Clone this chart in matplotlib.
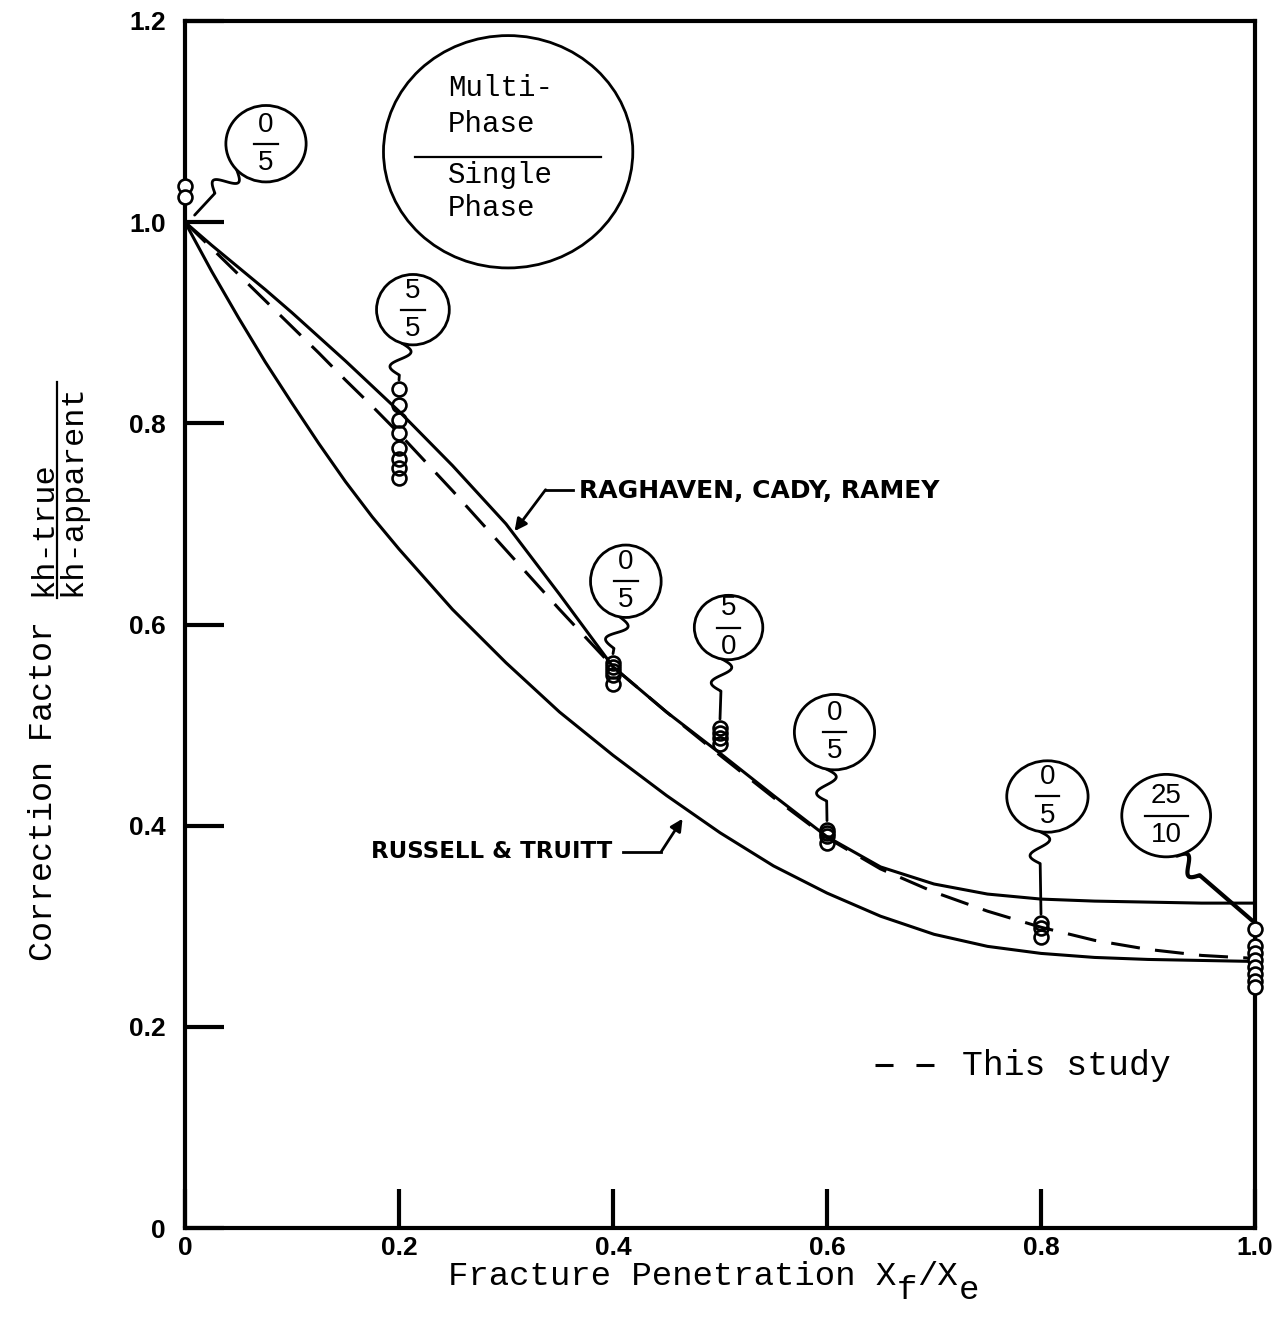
import numpy as np
import matplotlib
matplotlib.use("Agg")
import matplotlib.pyplot as plt
from matplotlib.patches import Ellipse
from matplotlib.transforms import offset_copy

# ---------------- data ----------------
x_curve = [0.000, 0.025, 0.050, 0.075, 0.100, 0.125, 0.150, 0.175, 0.200, 0.25, 0.30,
           0.35, 0.40, 0.45, 0.50, 0.55, 0.60, 0.65, 0.70, 0.75, 0.80, 0.85, 0.90,
           0.95, 1.00]
russell_truitt = [1.000, 0.951, 0.905, 0.861, 0.820, 0.780, 0.742, 0.707, 0.675, 0.615, 0.562,
                  0.513, 0.470, 0.430, 0.393, 0.360, 0.333, 0.310, 0.292, 0.280, 0.273, 0.269, 0.267,
                  0.266, 0.265]
raghavan_cady_ramey = [1.000, 0.977, 0.955, 0.933, 0.910, 0.886, 0.862, 0.837, 0.812, 0.758, 0.700,
                       0.630, 0.558, 0.513, 0.472, 0.430, 0.389, 0.359, 0.342, 0.332, 0.327, 0.325, 0.324,
                       0.323, 0.323]
this_study = [1.000, 0.974, 0.948, 0.922, 0.896, 0.870, 0.843, 0.817, 0.790, 0.733, 0.674,
              0.615, 0.558, 0.513, 0.470, 0.428, 0.388, 0.357, 0.334, 0.315, 0.299, 0.286, 0.277,
              0.271, 0.268]

# measured points at each fracture penetration
pen_groups = [0.0, 0.2, 0.4, 0.5, 0.6, 0.8, 1.0]
pen_values = [
    [1.036, 1.025],
    [0.834, 0.818, 0.803, 0.790, 0.775, 0.765, 0.756, 0.746],
    [0.562, 0.558, 0.554, 0.550, 0.541],
    [0.497, 0.492, 0.487, 0.481],
    [0.396, 0.393, 0.390, 0.383],
    [0.303, 0.298, 0.289],
    [0.297, 0.280, 0.273, 0.266, 0.259, 0.253, 0.246, 0.240],
]
# multi-phase / single-phase counts for each group
multi_counts = ["0", "5", "0", "5", "0", "0", "25"]
single_counts = ["5", "5", "5", "0", "5", "5", "10"]

x_ticks = [0, 0.2, 0.4, 0.6, 0.8, 1.0]
x_tick_labels = ["0", "0.2", "0.4", "0.6", "0.8", "1.0"]
y_ticks = [0, 0.2, 0.4, 0.6, 0.8, 1.0, 1.2]
y_tick_labels = ["0", "0.2", "0.4", "0.6", "0.8", "1.0", "1.2"]

# ---------------- fonts ----------------
MONO = "Liberation Mono"
SANS = "Liberation Sans"
LABEL = "DejaVu Sans"

W, H = 1282, 1328
fig = plt.figure(figsize=(W / 100, H / 100), dpi=100)
ax = fig.add_axes([185 / W, 100 / H, 1070 / W, 1207 / H])
ax.set_xlim(0, 1)
ax.set_ylim(0, 1.2)

for sp in ax.spines.values():
    sp.set_linewidth(3.0)
ax.tick_params(axis="both", direction="in", length=28, width=3.0,
               top=False, right=False)
ax.set_xticks(x_ticks)
ax.set_xticklabels(x_tick_labels, fontfamily=SANS, fontweight="bold", fontsize=19)
ax.set_yticks(y_ticks)
ax.set_yticklabels(y_tick_labels, fontfamily=SANS, fontweight="bold", fontsize=19)
ax.tick_params(axis="x", pad=6)
ax.tick_params(axis="y", pad=14)

# ---------------- curves ----------------
ax.plot(x_curve, russell_truitt, color="k", lw=2.2, solid_joinstyle="round", zorder=3)
ax.plot(x_curve, raghavan_cady_ramey, color="k", lw=2.2, solid_joinstyle="round", zorder=3)
ax.plot(x_curve, this_study, color="k", lw=2.2, linestyle=(0, (9.5, 5.0)), zorder=3)

# ---------------- measured points ----------------
for xg, vals in zip(pen_groups, pen_values):
    face = "white" if xg in (0.0, 1.0) else "none"
    ax.plot([xg] * len(vals), vals, linestyle="none", marker="o", ms=10,
            mfc=face, mec="k", mew=1.9, clip_on=False, zorder=5)

# ---------------- callout balloons ----------------
T = ax.transData


def tail(start, end, amp=10.0, wl=32.0, lw=2.0):
    p0 = T.transform(start)
    p1 = T.transform(end)
    d = p1 - p0
    L = np.hypot(*d)
    u = d / L
    n = np.array([-u[1], u[0]])
    t = np.linspace(0, 1, 60)
    wig = p0 + np.outer(t * wl, u) + np.outer(amp * np.sin(2 * np.pi * t), n)
    pts = np.vstack([wig, p1])
    dat = T.inverted().transform(pts)
    ax.plot(dat[:, 0], dat[:, 1], color="k", lw=lw, clip_on=False, zorder=6,
            solid_capstyle="round", solid_joinstyle="round")


# balloon layout: centre, size (axes data units), tail start angle
balloon_xy = [(0.0757, 1.078), (0.213, 0.913), (0.412, 0.643), (0.508, 0.597),
              (0.607, 0.493), (0.806, 0.429), (0.917, 0.410)]
balloon_wh = [(0.075, 0.076), (0.068, 0.070), (0.066, 0.072), (0.064, 0.064),
              (0.075, 0.075), (0.076, 0.071), (0.083, 0.082)]
tail_angle = [223, 252, 260, 259, 258, 259, 284]

for i, (xg, vals) in enumerate(zip(pen_groups, pen_values)):
    cx, cy = balloon_xy[i]
    bw, bh = balloon_wh[i]
    ax.add_patch(Ellipse((cx, cy), bw, bh, facecolor="white", edgecolor="k",
                         lw=2.0, zorder=7, clip_on=False))
    a = np.deg2rad(tail_angle[i])
    start = (cx + 0.5 * bw * np.cos(a), cy + 0.5 * bh * np.sin(a))
    if xg == 0.0:
        end = (xg + 0.009, this_study[0] + 0.007)
    else:
        end = (xg - 0.003 if xg == 1.0 else xg, max(vals) + 0.009)
    if xg == 1.0:
        tail(start, end, amp=8.0, wl=30.0, lw=3.0)
    else:
        tail(start, end)
    half = 0.011 if len(multi_counts[i]) == 1 else 0.02
    ax.plot([cx - half, cx + half], [cy, cy], color="k", lw=1.6, zorder=8)
    ax.text(cx, cy + 0.019, multi_counts[i], ha="center", va="center",
            fontfamily=SANS, fontsize=20, zorder=8)
    ax.text(cx, cy - 0.019, single_counts[i], ha="center", va="center",
            fontfamily=SANS, fontsize=20, zorder=8)

# multi-phase / single-phase key
ax.add_patch(Ellipse((0.302, 1.070), 0.233, 0.231, facecolor="white",
                     edgecolor="k", lw=2.0, zorder=7))
key_x = 0.246
ax.text(key_x, 1.133, "Multi-", fontfamily=MONO, fontsize=21, va="center", ha="left", zorder=8)
ax.text(key_x, 1.098, "Phase", fontfamily=MONO, fontsize=21, va="center", ha="left", zorder=8)
ax.plot([0.215, 0.389], [1.065, 1.065], color="k", lw=1.6, zorder=8)
ax.text(key_x, 1.047, "Single", fontfamily=MONO, fontsize=21, va="center", ha="left", zorder=8)
ax.text(key_x, 1.014, "Phase", fontfamily=MONO, fontsize=21, va="center", ha="left", zorder=8)

# ---------------- curve labels ----------------
ax.text(0.368, 0.733, "RAGHAVEN, CADY, RAMEY", fontfamily=LABEL, fontweight="bold",
        fontsize=18, ha="left", va="center")
rx_tip = 0.308
ry_tip = np.interp(rx_tip, x_curve, raghavan_cady_ramey) + 0.004
ax.plot([0.363, 0.337], [0.734, 0.734], color="k", lw=2.0)
ax.annotate("", xy=(rx_tip, ry_tip), xytext=(0.337, 0.734),
            arrowprops=dict(arrowstyle="-|>", lw=2.0, color="k",
                            mutation_scale=18, shrinkA=0, shrinkB=0))

ax.text(0.399, 0.374, "RUSSELL & TRUITT", fontfamily=LABEL, fontweight="bold",
        fontsize=16.5, ha="right", va="center")
tx_tip = 0.465
ty_tip = np.interp(tx_tip, x_curve, russell_truitt) - 0.012
ax.plot([0.409, 0.445], [0.374, 0.374], color="k", lw=2.0)
ax.annotate("", xy=(tx_tip, ty_tip), xytext=(0.445, 0.374),
            arrowprops=dict(arrowstyle="-|>", lw=2.0, color="k",
                            mutation_scale=18, shrinkA=0, shrinkB=0))

# ---------------- legend ----------------
ax.plot([0.645, 0.702], [0.162, 0.162], color="k", lw=2.2, linestyle=(0, (5.9, 7.5)))
ax.text(0.726, 0.162, "This study", fontfamily=MONO, fontsize=25, ha="left", va="center")

# ---------------- axis titles ----------------
title_fs = 24.5
cw = 0.6 * title_fs          # monospace advance, points
x0, y0 = 448 / W, (H - 1285) / H
parts = [("Fracture Penetration X", 0, 0), ("f", 22, -10), ("/X", 23, 0), ("e", 25, -10)]
for s, col, dy in parts:
    tr = offset_copy(fig.transFigure, fig=fig, x=col * cw, y=dy, units="points")
    fig.text(x0, y0, s, transform=tr, fontfamily=MONO, fontsize=title_fs,
             ha="left", va="baseline")

fig.text(44 / W, (H - 961) / H, "Correction Factor", fontfamily=MONO, fontsize=24,
         rotation=90, rotation_mode="anchor", ha="left", va="center")
fig.text(43 / W, (H - 596) / H, "kh-true", fontfamily=MONO, fontsize=23,
         rotation=90, rotation_mode="anchor", ha="left", va="center")
fig.text(72 / W, (H - 596) / H, "kh-apparent", fontfamily=MONO, fontsize=23,
         rotation=90, rotation_mode="anchor", ha="left", va="center")
fig.add_artist(plt.Line2D([57 / W, 57 / W], [(H - 598) / H, (H - 382) / H],
                          color="k", lw=1.6, transform=fig.transFigure))

fig.savefig("out.png", dpi=100)
